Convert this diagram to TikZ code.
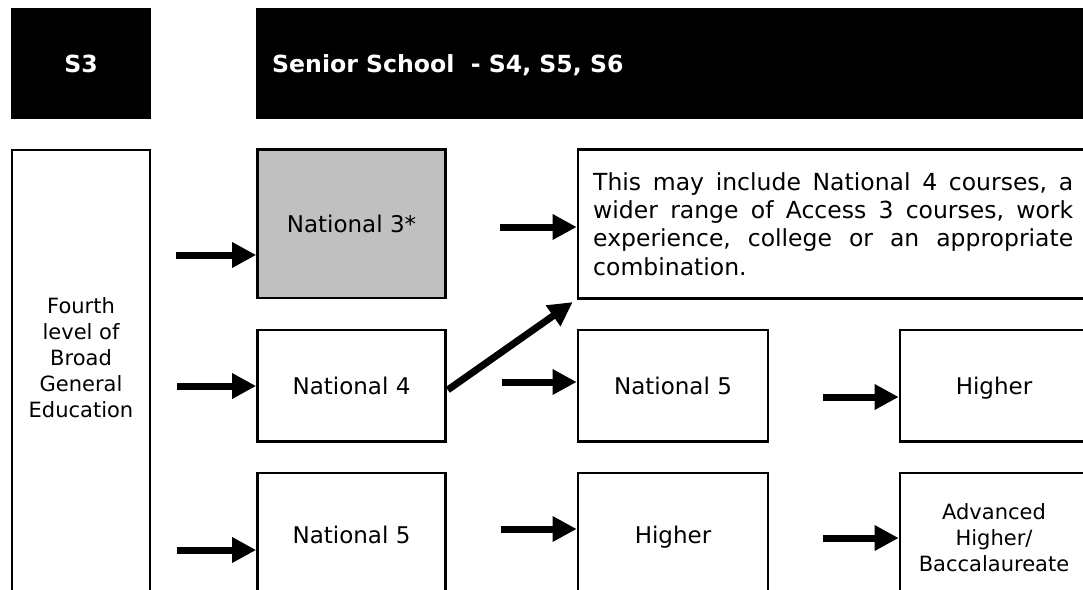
\documentclass[tikz,border=0pt]{standalone}
\usepackage{fontspec}
\setmainfont{DejaVu Sans}
\usetikzlibrary{arrows.meta,calc}
\definecolor{nthree}{HTML}{C0C0C0}
\newcommand{\jline}[1]{\hbox to 480pt{#1}}
\begin{document}
\begin{tikzpicture}[x=1pt,y=-1pt,
  box/.style={draw=black, line width=2.6pt, inner sep=0pt, fill=white, text height=17.5pt, text depth=0pt, font=\fontsize{23}{28}\selectfont},
  hdr/.style={fill=black, draw=none, inner sep=0pt},
  hdrtext/.style={text=white, inner sep=0pt, font=\fontsize{23.6}{28}\selectfont\bfseries},
  fat/.style={line width=7pt, -{Triangle[length=24pt,width=24pt]}},
  small/.style={align=center, inner sep=0pt, font=\fontsize{21}{26}\selectfont},
]
\useasboundingbox (0,0) rectangle (1083,589);
\clip (0,0) rectangle (1083,589);
\fill[white] (0,0) rectangle (1083,589);

% headers
\node[hdr, hdrtext, minimum width=140pt, minimum height=111pt, text height=17.2pt, text depth=0pt] (s3) at (81,63.5) {S3};
\node[hdr, minimum width=844pt, minimum height=111pt] (senior) at (678,63.5) {};
\node[hdrtext, anchor=base west] (seniortext) at (272,72.7) {Senior School\ \ - S4, S5, S6};

% left column
\node[box, minimum width=138pt, minimum height=470pt] (edu) at (81,385) {};
\node[small] (edutext) at (81,357.3) {Fourth\\level of\\Broad\\General\\Education};

% column 1
\node[box, fill=nthree, minimum width=188pt, minimum height=148.5pt] (n3) at (351.5,223.75) {National 3*};
\node[box, minimum width=188pt, minimum height=111.7pt] (n4) at (351.5,385.85) {National 4};
\node[box, minimum width=188pt, minimum height=121pt, text height=20pt] (n5) at (351.5,533.5) {National 5};

% column 2
\node[box, minimum width=510pt, minimum height=148.8pt] (info) at (833,223.9) {};
\node[anchor=north west, inner sep=0pt, align=left, font=\fontsize{23.5}{28.3}\selectfont] (infotext) at (593,172.1) {%
\jline{This\hfill may\hfill include\hfill National\hfill 4\hfill courses,\hfill a}\\
\jline{wider\hfill range\hfill of\hfill Access\hfill 3\hfill courses,\hfill work}\\
\jline{experience,\hfill college\hfill or\hfill an\hfill appropriate}\\
\jline{combination.\hfill}};
\node[box, minimum width=190pt, minimum height=111.7pt] (n5b) at (673,385.85) {National 5};
\node[box, minimum width=190pt, minimum height=121pt, text height=20pt] (h3) at (673,533.5) {Higher};

% column 3
\node[box, minimum width=188pt, minimum height=111.7pt] (h2) at (994,385.85) {Higher};
\node[box, minimum width=188pt, minimum height=121pt] (adv) at (994,533.5) {};
\node[small] (advtext) at (994,537.3) {Advanced\\Higher/\\Baccalaureate};

% arrows
\coordinate (a1) at (176,255);
\coordinate (a2) at (177,386);
\coordinate (a3) at (177,550);
\coordinate (b1) at (500,227);
\coordinate (b2) at (502,382);
\coordinate (b3) at (501,529);
\coordinate (c2) at (823,397);
\coordinate (c3) at (823,538);
\draw[fat] (a1) -- (a1 -| n3.west);
\draw[fat] (a2) -- (a2 -| n4.west);
\draw[fat] (a3) -- (a3 -| n5.west);
\draw[fat] (b1) -- (b1 -| info.west);
\draw[fat] (b2) -- (b2 -| n5b.west);
\draw[fat] (b3) -- (b3 -| h3.west);
\draw[fat] (c2) -- (c2 -| h2.west);
\draw[fat] (c3) -- (c3 -| adv.west);
\draw[fat] ($(n4.east)+(1,4)$) -- ($(info.south west)+(-4,2.5)$);
\end{tikzpicture}
\end{document}
